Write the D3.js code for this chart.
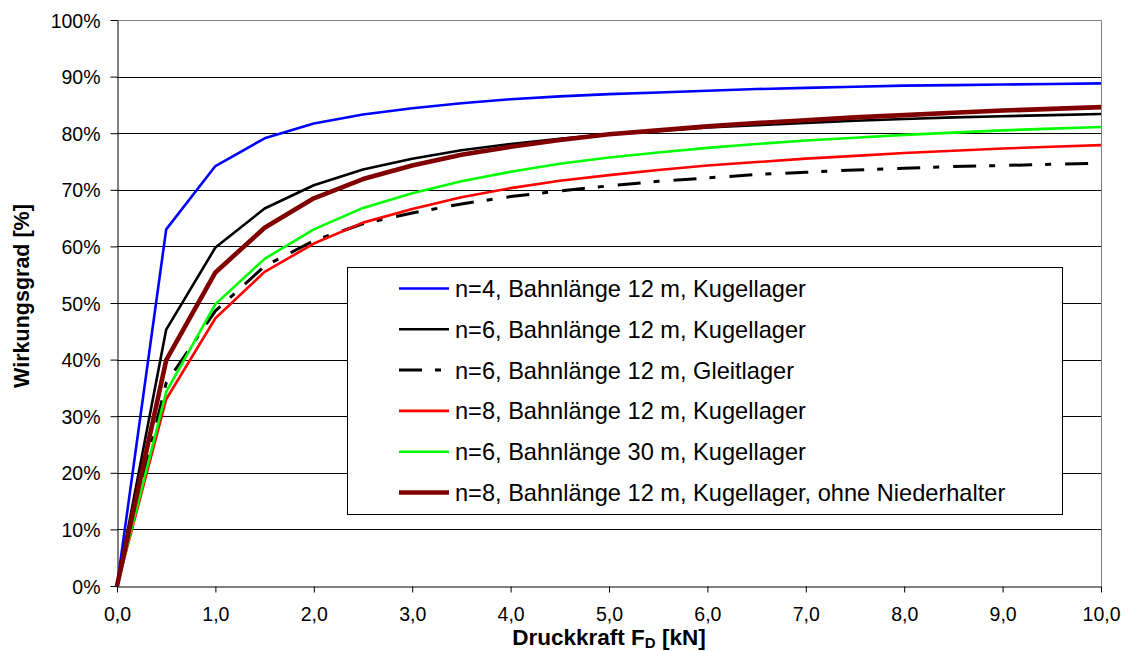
<!DOCTYPE html>
<html>
<head>
<meta charset="utf-8">
<script src="https://cdn.jsdelivr.net/npm/d3@7"></script>
<style>
  body { margin: 0; background: #fff; }
  svg { display: block; font-family: Arial, 'Liberation Sans', sans-serif; }
</style>
</head>
<body>
<svg width="1128" height="652"></svg>
<script>
// Druckkraft in kN (Messpunkte alle 0,5 kN)
const forces = [0, 0.5, 1, 1.5, 2, 2.5, 3, 3.5, 4, 4.5, 5, 5.5, 6, 6.5, 7, 7.5, 8, 8.5, 9, 9.5, 10];

const seriesNames = [
  'n=4, Bahnlänge 12 m, Kugellager',
  'n=6, Bahnlänge 12 m, Kugellager',
  'n=6, Bahnlänge 12 m, Gleitlager',
  'n=8, Bahnlänge 12 m, Kugellager',
  'n=6, Bahnlänge 30 m, Kugellager',
  'n=8, Bahnlänge 12 m, Kugellager, ohne Niederhalter',
];

// Wirkungsgrad in %
const n4_12_kugel = [0, 63.0, 74.2, 79.1, 81.7, 83.3, 84.4, 85.3, 86.0, 86.5, 86.9, 87.2, 87.5, 87.8, 88.0, 88.2, 88.4, 88.5, 88.6, 88.7, 88.8];
const n6_12_kugel = [0, 45.3, 59.8, 66.7, 70.8, 73.6, 75.5, 77.0, 78.1, 79.0, 79.8, 80.4, 81.0, 81.4, 81.8, 82.2, 82.5, 82.8, 83.0, 83.2, 83.4];
const n6_12_gleit = [0, 35.9, 48.6, 56.5, 61.0, 64.0, 65.9, 67.5, 68.8, 69.8, 70.7, 71.5, 72.1, 72.7, 73.1, 73.5, 73.8, 74.1, 74.3, 74.5, 74.7];
const n8_12_kugel = [0, 33.0, 47.3, 55.5, 60.5, 64.2, 66.6, 68.7, 70.3, 71.6, 72.6, 73.5, 74.3, 74.9, 75.5, 76.0, 76.5, 76.9, 77.3, 77.6, 77.9];
const n6_30_kugel = [0, 34.3, 49.8, 57.8, 63.0, 66.8, 69.4, 71.5, 73.2, 74.6, 75.7, 76.6, 77.4, 78.1, 78.7, 79.2, 79.7, 80.1, 80.5, 80.8, 81.1];
const n8_12_ohne = [0, 39.9, 55.4, 63.3, 68.5, 71.9, 74.3, 76.2, 77.6, 78.8, 79.8, 80.5, 81.2, 81.8, 82.3, 82.8, 83.2, 83.6, 84.0, 84.3, 84.6];

const xTicks = [0, 1, 2, 3, 4, 5, 6, 7, 8, 9, 10];
const yTicks = [0, 10, 20, 30, 40, 50, 60, 70, 80, 90, 100];

const allSeries = [n4_12_kugel, n6_12_kugel, n6_12_gleit, n8_12_kugel, n6_30_kugel, n8_12_ohne];

// Linienstile je Reihe
const styles = [
  { color: '#0000ff', width: 2.6, dash: null },
  { color: '#000000', width: 2.6, dash: null },
  { color: '#000000', width: 3, dash: '23,13,6,14' },
  { color: '#ff0000', width: 2.6, dash: null },
  { color: '#00ff00', width: 2.6, dash: null },
  { color: '#800000', width: 4.6, dash: null },
];

const svg = d3.select('svg');

const plot = { left: 117, top: 20, right: 1101, bottom: 586 };

const x = d3.scaleLinear().domain([0, 10]).range([plot.left, plot.right]);
const y = d3.scaleLinear().domain([0, 100]).range([plot.bottom, plot.top]);

// Gitterlinien
svg
  .append('g')
  .selectAll('line')
  .data(yTicks.slice(1, -1))
  .enter()
  .append('line')
  .attr('x1', plot.left)
  .attr('x2', plot.right)
  .attr('y1', (d) => Math.round(y(d)) + 0.5)
  .attr('y2', (d) => Math.round(y(d)) + 0.5)
  .style('stroke', '#000')
  .style('stroke-width', 1);

// Rahmen oben und rechts (grau)
svg
  .append('path')
  .attr('d', `M${plot.left},${plot.top + 0.5} H${plot.right + 0.5} V${plot.bottom}`)
  .style('fill', 'none')
  .style('stroke', '#808080')
  .style('stroke-width', 1);

// Achsen
const xAxis = svg
  .append('g')
  .attr('transform', `translate(0,${plot.bottom + 0.5})`)
  .call(
    d3.axisBottom(x)
      .tickValues(xTicks)
      .tickSize(6)
      .tickSizeOuter(0)
      .tickFormat((d) => d3.format('.1f')(d).replace('.', ','))
  );

const yAxis = svg
  .append('g')
  .attr('transform', `translate(${plot.left + 0.5},0)`)
  .call(
    d3.axisLeft(y)
      .tickValues(yTicks)
      .tickSize(7)
      .tickSizeOuter(0)
      .tickFormat((d) => d + '%')
  );

[xAxis, yAxis].forEach((a) => {
  a.select('.domain').style('stroke', '#000');
  a.selectAll('.tick line').style('stroke', '#000');
  a.selectAll('.tick text')
    .style('font-size', '19.5px')
    .style('font-family', "Arial, 'Liberation Sans', sans-serif")
    .attr('fill', '#000');
});

xAxis.selectAll('.tick text').attr('y', 0).attr('dy', 0).attr('transform', 'translate(0,34)');
yAxis.selectAll('.tick text').attr('x', -17).attr('dy', '0.36em');

// Kurven
const line = d3
  .line()
  .x((d, i) => x(forces[i]))
  .y((d) => y(d));

svg
  .append('g')
  .selectAll('path')
  .data(allSeries)
  .enter()
  .append('path')
  .attr('d', line)
  .style('fill', 'none')
  .style('stroke', (d, i) => styles[i].color)
  .style('stroke-width', (d, i) => styles[i].width)
  .style('stroke-dasharray', (d, i) => styles[i].dash)
  .style('stroke-linejoin', 'round');

// Legende
const legend = svg.append('g');

legend
  .append('rect')
  .attr('x', 347.5)
  .attr('y', 267.5)
  .attr('width', 715)
  .attr('height', 247)
  .style('fill', '#fff')
  .style('stroke', '#000')
  .style('stroke-width', 1);

const rows = legend
  .selectAll('g.row')
  .data(seriesNames)
  .enter()
  .append('g')
  .attr('class', 'row')
  .attr('transform', (d, i) => `translate(0,${288.5 + i * 40.8})`);

rows
  .append('line')
  .attr('x1', 399)
  .attr('x2', 449)
  .style('stroke', (d, i) => styles[i].color)
  .style('stroke-width', (d, i) => styles[i].width)
  .style('stroke-dasharray', (d, i) => styles[i].dash);

rows
  .append('text')
  .attr('x', 455)
  .attr('dy', '0.36em')
  .attr('font-size', '23.6px')
  .attr('fill', '#000')
  .text((d) => d);

// Achsentitel
svg
  .append('text')
  .attr('transform', 'translate(29,296) rotate(-90)')
  .attr('text-anchor', 'middle')
  .attr('font-size', '21.5px')
  .attr('font-weight', 'bold')
  .text('Wirkungsgrad [%]');

const xTitle = svg
  .append('text')
  .attr('x', 609)
  .attr('y', 645)
  .attr('text-anchor', 'middle')
  .attr('font-size', '22.5px')
  .attr('font-weight', 'bold');

xTitle.append('tspan').text('Druckkraft F');
xTitle.append('tspan').attr('font-size', '15px').attr('dy', 3).text('D');
xTitle.append('tspan').attr('dy', -3).text(' [kN]');
</script>
</body>
</html>
